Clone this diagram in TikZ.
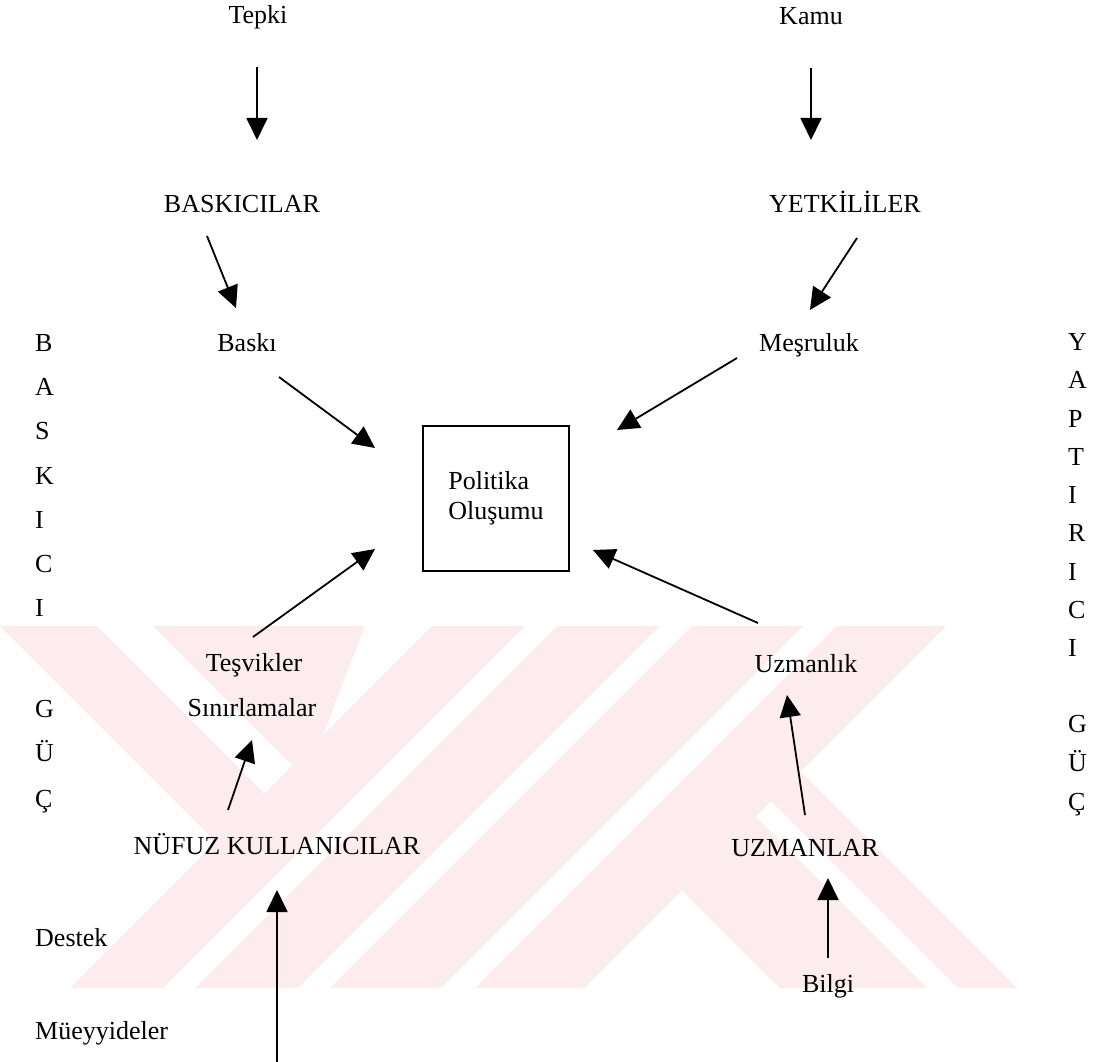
\documentclass[tikz,border=0pt]{standalone}
\usepackage{fontspec}
\setmainfont{Liberation Serif}
\usetikzlibrary{arrows.meta}
\definecolor{wm}{RGB}{252,236,240}
\begin{document}
\begin{tikzpicture}[x=1pt,y=-1pt,
  lbl/.style={inner sep=0pt, anchor=base, font=\fontsize{26}{30}\selectfont},
  lblw/.style={lbl, anchor=base west},
  arr/.style={line width=1.8pt, -{Triangle[length=22pt,width=21pt]}},
  wmark/.style={fill=wm, draw=none}]
\useasboundingbox (0,0) rectangle (1095,1062);
% faint watermark
\begin{scope}
\clip (0,626) rectangle (1095,988);
\fill[wmark] (0,626) -- (97,626) -- (264.5,793.5) -- (216,842) -- cycle;
\fill[wmark] (153,626) -- (365,626) -- (323,735) -- (292.5,765.5) -- cycle;
\fill[wmark] (432,626) -- (525,626) -- (163,988) -- (70,988) -- cycle;
\fill[wmark] (557,626) -- (660,626) -- (298,988) -- (195,988) -- cycle;
\fill[wmark] (692,626) -- (803,626) -- (441,988) -- (330,988) -- cycle;
\fill[wmark] (837,626) -- (946,626) -- (584,988) -- (475,988) -- cycle;
\fill[wmark] (627.5,835.5) -- (701,762) -- (927,988) -- (780,988) -- cycle;
\fill[wmark] (771,801) -- (800.5,771.5) -- (1017,988) -- (958,988) -- cycle;
\end{scope}

% top labels
\node[lbl] (tepki) at (258,24) {Tepki};
\node[lbl] (kamu) at (811,25) {Kamu};
\node[lbl] (baskicilar) at (242,212) {BASKICILAR};
\node[lbl] (yetkililer) at (845,212) {YETKİLİLER};
\node[lbl] (baski) at (247,351) {Baskı};
\node[lbl] (mesruluk) at (809,351) {Meşruluk};

% central box
\node[draw, line width=1.6pt, minimum width=146pt, minimum height=145pt,
      inner sep=0pt, align=left, font=\fontsize{26}{30}\selectfont]
      (politika) at (496,498.5) {Politika\\Oluşumu};

% lower labels
\node[lbl] (tesvikler) at (254,671) {Teşvikler};
\node[lbl] (sinirlamalar) at (252,716) {Sınırlamalar};
\node[lbl] (uzmanlik) at (806,672) {Uzmanlık};
\node[lbl] (nufuz) at (277,854) {NÜFUZ KULLANICILAR};
\node[lbl] (uzmanlar) at (805,856) {UZMANLAR};
\node[lblw] (destek) at (35,946) {Destek};
\node[lbl] (bilgi) at (828,992) {Bilgi};
\node[lblw] (mueyyideler) at (35,1039) {Müeyyideler};

% left vertical word
\node[lblw] (l1) at (35,351) {B};
\node[lblw] (l2) at (35,395) {A};
\node[lblw] (l3) at (35,439) {S};
\node[lblw] (l4) at (35,484) {K};
\node[lblw] (l5) at (35,528) {I};
\node[lblw] (l6) at (35,572) {C};
\node[lblw] (l7) at (35,616) {I};
\node[lblw] (l8) at (35,717) {G};
\node[lblw] (l9) at (35,761) {Ü};
\node[lblw] (l10) at (35,807) {Ç};

% right vertical word
\node[lblw] (r1) at (1068,350) {Y};
\node[lblw] (r2) at (1068,388) {A};
\node[lblw] (r3) at (1068,427) {P};
\node[lblw] (r4) at (1068,465) {T};
\node[lblw] (r5) at (1068,503) {I};
\node[lblw] (r6) at (1068,541) {R};
\node[lblw] (r7) at (1068,580) {I};
\node[lblw] (r8) at (1068,618) {C};
\node[lblw] (r9) at (1068,656) {I};
\node[lblw] (r10) at (1068,732) {G};
\node[lblw] (r11) at (1068,771) {Ü};
\node[lblw] (r12) at (1068,810) {Ç};

% connector end points
\coordinate (tepki-out) at (257,67);
\coordinate (baskicilar-in) at (257,140);
\coordinate (kamu-out) at (811,68);
\coordinate (yetkililer-in) at (811,140);
\coordinate (baskicilar-out) at (207,236);
\coordinate (baski-in) at (236,308);
\coordinate (yetkililer-out) at (857,238);
\coordinate (mesruluk-in) at (810,310);
\coordinate (baski-out) at (279,377);
\coordinate (politika-in1) at (375,448);
\coordinate (mesruluk-out) at (737,358);
\coordinate (politika-in2) at (617,430);
\coordinate (tesvikler-out) at (253,637);
\coordinate (politika-in3) at (375,549);
\coordinate (uzmanlik-out) at (758,623);
\coordinate (politika-in4) at (593,550);
\coordinate (nufuz-out) at (228,810);
\coordinate (sinirlamalar-in) at (252,740);
\coordinate (uzmanlar-out) at (805,815);
\coordinate (uzmanlik-in) at (787,695);
\coordinate (bottom-src) at (277,1062);
\coordinate (nufuz-in) at (277,890);
\coordinate (bilgi-out) at (828,958);
\coordinate (uzmanlar-in) at (828,878);

% connectors
\draw[arr] (tepki-out) -- (baskicilar-in);
\draw[arr] (kamu-out) -- (yetkililer-in);
\draw[arr] (baskicilar-out) -- (baski-in);
\draw[arr] (yetkililer-out) -- (mesruluk-in);
\draw[arr] (baski-out) -- (politika-in1);
\draw[arr] (mesruluk-out) -- (politika-in2);
\draw[arr] (tesvikler-out) -- (politika-in3);
\draw[arr] (uzmanlik-out) -- (politika-in4);
\draw[arr] (nufuz-out) -- (sinirlamalar-in);
\draw[arr] (uzmanlar-out) -- (uzmanlik-in);
\draw[arr] (bottom-src) -- (nufuz-in);
\draw[arr] (bilgi-out) -- (uzmanlar-in);
\end{tikzpicture}
\end{document}
